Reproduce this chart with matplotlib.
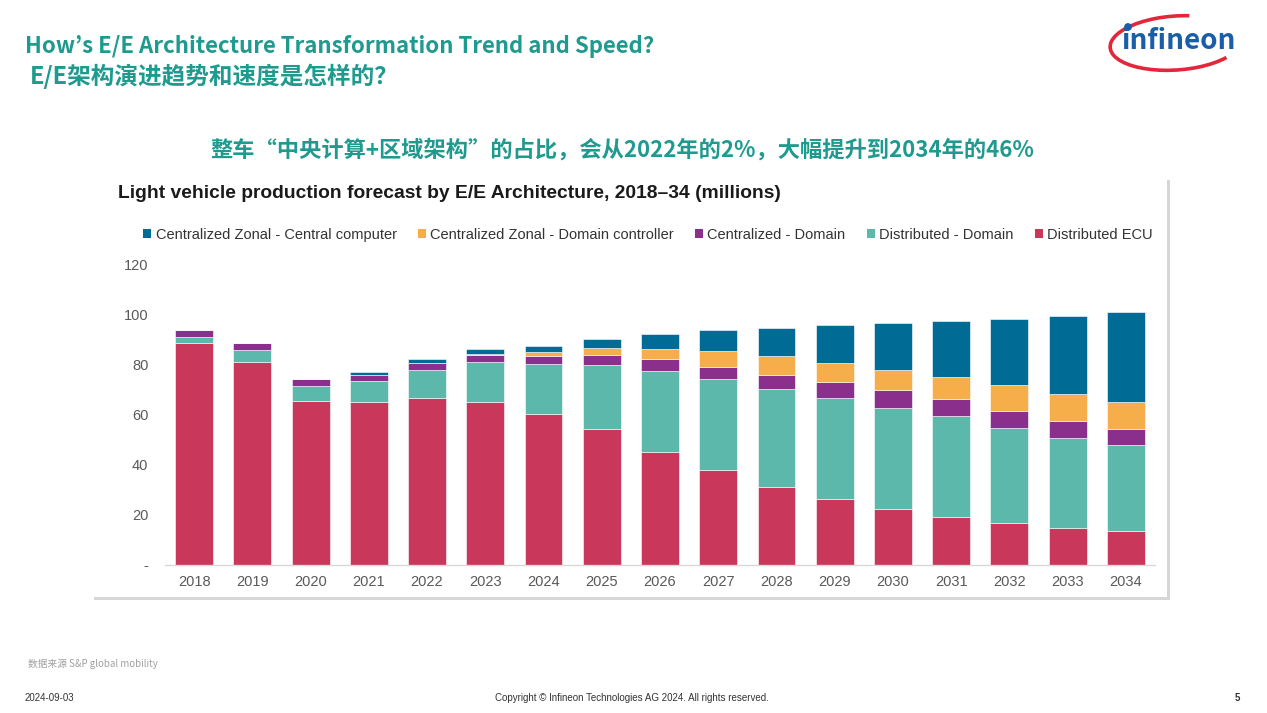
import matplotlib
matplotlib.use("Agg")
import matplotlib.pyplot as plt
from matplotlib.patches import Patch, Arc, Rectangle, Circle
import numpy as np

years = ["2018", "2019", "2020", "2021", "2022", "2023", "2024", "2025", "2026",
         "2027", "2028", "2029", "2030", "2031", "2032", "2033", "2034"]
distributed_ecu = [88.7, 81.3, 65.7, 65.3, 66.7, 65.3, 60.3, 54.3, 45.1,
                   37.9, 31.3, 26.3, 22.3, 19.3, 16.7, 14.9, 13.7]
distributed_domain = [2.4, 4.7, 6.0, 8.3, 11.3, 15.8, 20.2, 25.7, 32.6,
                      36.4, 39.1, 40.4, 40.6, 40.2, 38.2, 36.0, 34.3]
centralized_domain = [2.9, 2.7, 2.7, 2.3, 2.7, 2.9, 3.1, 3.9, 4.8,
                      5.0, 5.6, 6.5, 7.1, 6.9, 6.8, 6.6, 6.5]
zonal_domain_ctrl = [0.0, 0.0, 0.0, 0.0, 0.0, 0.4, 1.7, 2.8, 4.0,
                     6.2, 7.6, 7.7, 8.1, 8.7, 10.2, 11.0, 10.8]
zonal_central_comp = [0.0, 0.0, 0.0, 1.2, 1.6, 2.2, 2.4, 3.7, 5.8,
                      8.4, 11.3, 15.1, 18.7, 22.5, 26.5, 31.1, 36.0]

series_names = ["Distributed ECU", "Distributed - Domain", "Centralized - Domain",
                "Centralized Zonal - Domain controller", "Centralized Zonal - Central computer"]
series_vals = [distributed_ecu, distributed_domain, centralized_domain,
               zonal_domain_ctrl, zonal_central_comp]
series_colors = ["#C9375A", "#5BB8AA", "#8A2F8B", "#F6AE4B", "#006C95"]

y_ticks = [0, 20, 40, 60, 80, 100, 120]
y_ticklabels = ["-", "20", "40", "60", "80", "100", "120"]

W, H = 1267, 713
fig = plt.figure(figsize=(W / 100, H / 100), dpi=100)
fig.patch.set_facecolor("white")

# overlay axes in pixel coordinates
bg = fig.add_axes([0, 0, 1, 1], zorder=0)
bg.set_xlim(0, W)
bg.set_ylim(H, 0)
bg.axis("off")

TEAL = "#1F9A8F"
cjk = ["Noto Sans CJK SC", "DejaVu Sans"]
cjk_jp = ["Noto Sans CJK JP", "DejaVu Sans"]
arial = ["Liberation Sans", "DejaVu Sans"]

bg.text(25, 47, "How’s E/E Architecture Transformation Trend and Speed?", color=TEAL,
        fontsize=16, family=cjk_jp, fontweight="bold", va="center", ha="left")
bg.text(30, 76, "E/E架构演进趋势和速度是怎样的？", color=TEAL,
        fontsize=17, family=cjk, fontweight="bold", va="center", ha="left")
bg.text(622, 150, "整车“中央计算+区域架构”的占比，会从2022年的2%，大幅提升到2034年的46%",
        color=TEAL, fontsize=16, family=cjk, fontweight="bold", va="center", ha="center")

# logo
bg.add_patch(Arc((1176, 43), 132, 54, angle=-4, theta1=20, theta2=300,
                 color="#E3263A", lw=2.6))
bg.text(1178, 41, "infineon", color="#1A5EA8", fontsize=20, family=cjk,
        fontweight="bold", va="center", ha="center")
bg.add_patch(Circle((1128, 27), 3.2, color="#1A5EA8"))

# chart panel with shadow
bg.add_patch(Rectangle((94, 180), 1076, 420, facecolor="#d6d6d6", edgecolor="none"))
bg.add_patch(Rectangle((92, 176), 1075, 421, facecolor="white", edgecolor="none"))

bg.text(118, 193, "Light vehicle production forecast by E/E Architecture, 2018–34 (millions)",
        fontsize=13.9, fontweight="bold", family=arial, color="#1a1a1a", va="center", ha="left")

# footer
bg.text(28, 664, "数据来源 S&P global mobility", fontsize=7, color="#a0a0a0", family=cjk,
        va="center", ha="left")
bg.text(25, 698, "2024-09-03", fontsize=7, color="#333333", family=arial, va="center", ha="left")
bg.text(632, 698, "Copyright © Infineon Technologies AG 2024. All rights reserved.", fontsize=7,
        color="#333333", family=arial, va="center", ha="center")
bg.text(1237, 698, "5", fontsize=7, color="#333333", family=arial, fontweight="bold",
        va="center", ha="center")

# main chart axes
ax = fig.add_axes([165 / W, 1 - 565 / H, 990 / W, 300 / H], zorder=2)
ax.patch.set_alpha(0)
x = np.arange(len(years))
bottom = np.zeros(len(years))
handles = {}
for name, vals, col in zip(series_names, series_vals, series_colors):
    v = np.array(vals)
    ax.bar(x, v, width=0.65, bottom=bottom, color=col, edgecolor="white",
           linewidth=0.4, label=name)
    handles[name] = Patch(facecolor=col, edgecolor="none")
    bottom += v

ax.set_xlim(-0.5, 16.5)
ax.set_ylim(0, 120)
ax.set_yticks(y_ticks)
ax.set_yticklabels(y_ticklabels)
ax.set_xticks(x)
ax.set_xticklabels(years)
for s in ["top", "right", "left"]:
    ax.spines[s].set_visible(False)
ax.spines["bottom"].set_color("#d9d9d9")
ax.spines["bottom"].set_linewidth(1.0)
ax.tick_params(axis="y", length=0, pad=12, labelsize=10.5, labelcolor="#595959")
ax.tick_params(axis="x", length=0, pad=7, labelsize=10.5, labelcolor="#595959")
for lab in ax.get_xticklabels() + ax.get_yticklabels():
    lab.set_family(arial)

legend_order = ["Centralized Zonal - Central computer", "Centralized Zonal - Domain controller",
                "Centralized - Domain", "Distributed - Domain", "Distributed ECU"]
leg = fig.legend([handles[n] for n in legend_order], legend_order, ncol=5,
                 loc="center", bbox_to_anchor=(648 / W, 1 - 235 / H), frameon=False,
                 handlelength=0.55, handleheight=0.55, handletextpad=0.3,
                 columnspacing=1.45, prop={"family": arial, "size": 10.5})
for t in leg.get_texts():
    t.set_color("#333333")

fig.savefig("out.png", dpi=100, facecolor="white")
